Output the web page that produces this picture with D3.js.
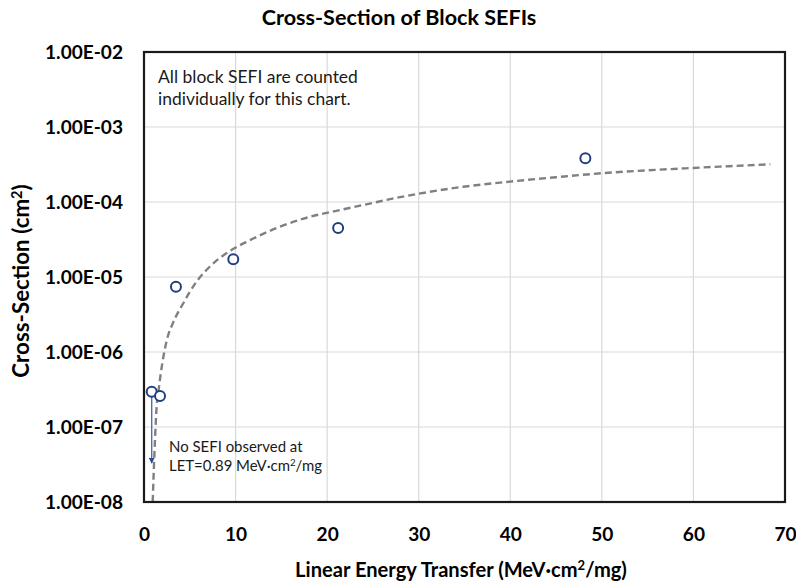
<!DOCTYPE html>
<html><head><meta charset="utf-8">
<script src="https://cdn.jsdelivr.net/npm/d3@7"></script>
<style>body{margin:0;background:#fff}svg{display:block}text{font-family:Lato,"Open Sans",sans-serif}</style>
</head><body>
<svg id="c" width="796" height="585"></svg>
<script>
// Data
const measLET = [0.84, 1.75, 3.49, 9.75, 21.2, 48.2];
const measXS  = [2.96e-7, 2.59e-7, 7.43e-6, 1.72e-5, 4.5e-5, 3.83e-4];
const fitLET = [0.95, 1.2, 1.38, 1.6, 2.0, 2.5, 3.2, 4.29, 5.75, 7.2, 9.03, 11.58, 14.85, 17.77, 21.4, 23.9, 27.6, 29.96, 34.87, 39.97, 45, 50, 59.1, 68.4];
const fitXS  = [1e-8, 6.8e-8, 1.86e-7, 3.16e-7, 7.1e-7, 1.45e-6, 2.5e-6, 4.47e-6, 8.7e-6, 1.38e-5, 2.09e-5, 3.1e-5, 4.68e-5, 6.17e-5, 7.82e-5, 9.1e-5, 1.138e-4, 1.288e-4, 1.596e-4, 1.87e-4, 2.14e-4, 2.42e-4, 2.81e-4, 3.18e-4];
const xTicks = [0, 10, 20, 30, 40, 50, 60, 70];
const yTicks = [1e-8, 1e-7, 1e-6, 1e-5, 1e-4, 1e-3, 1e-2];
const yTickLabels = ["1.00E-08","1.00E-07","1.00E-06","1.00E-05","1.00E-04","1.00E-03","1.00E-02"];
const arrowFrom = {let: 0.84, xs: 2.96e-7};
const arrowTo = {let: 0.84, xs: 3.3e-8};

const svg = d3.select("#c");
const L = 144, R = 785, T = 52, B = 502;
const x = d3.scaleLinear().domain([0, 70]).range([L, R]);
const y = d3.scaleLog().domain([1e-8, 1e-2]).range([B, T]);

// scale a text's font-size so its width matches a target
function fitSize(sel, base, target) {
  sel.attr("font-size", base);
  const w = sel.node().getBBox().width;
  const s = base * target / w;
  sel.attr("font-size", s);
  return s;
}

// grid
const g = svg.append("g");
g.selectAll(".gx").data(xTicks.slice(1, -1)).join("line")
  .attr("x1", d => x(d)).attr("x2", d => x(d)).attr("y1", T).attr("y2", B)
  .attr("stroke", "#d9d9d9").attr("stroke-width", 1.2);
g.selectAll(".gy").data(yTicks.slice(1, -1)).join("line")
  .attr("y1", d => y(d)).attr("y2", d => y(d)).attr("x1", L).attr("x2", R)
  .attr("stroke", "#d9d9d9").attr("stroke-width", 1.2);

// tick label size from a probe
const probe = svg.append("text").attr("font-weight", "bold").text(yTickLabels[6]);
const tickSize = fitSize(probe, 16, 78);
probe.remove();

const xAxis = d3.axisBottom(x).tickValues(xTicks).tickSize(0).tickPadding(0);
svg.append("g").attr("transform", `translate(0,${B})`).call(xAxis)
  .call(a => a.select(".domain").remove())
  .selectAll("text").attr("dy", null).attr("y", 39).attr("font-size", tickSize).attr("font-weight", "bold").attr("fill", "#000")
  .style("font-family", "Lato, sans-serif");
const yAxis = d3.axisLeft(y).tickValues(yTicks).tickFormat((d, i) => yTickLabels[i]).tickSize(0).tickPadding(21);
svg.append("g").attr("transform", `translate(${L},0)`).call(yAxis)
  .call(a => a.select(".domain").remove())
  .selectAll("text").attr("font-size", tickSize).attr("font-weight", "bold").attr("fill", "#000")
  .style("font-family", "Lato, sans-serif");

// fit curve
const line = d3.line().x((d, i) => x(fitLET[i])).y((d, i) => y(fitXS[i])).curve(d3.curveMonotoneX);
svg.append("path").datum(fitLET).attr("d", line).attr("fill", "none")
  .attr("stroke", "#808080").attr("stroke-width", 2.4).attr("stroke-dasharray", "7,4");

// arrow
svg.append("defs").append("marker").attr("id", "ah").attr("viewBox", "0 0 10 10")
  .attr("refX", 9).attr("refY", 5).attr("markerWidth", 6).attr("markerHeight", 6).attr("orient", "auto")
  .attr("markerUnits", "userSpaceOnUse")
  .append("path").attr("d", "M0,0L10,5L0,10z").attr("fill", "#2b4b8c");
svg.append("line").attr("x1", x(arrowFrom.let)).attr("y1", y(arrowFrom.xs))
  .attr("x2", x(arrowTo.let)).attr("y2", y(arrowTo.xs))
  .attr("stroke", "#4f6fae").attr("stroke-width", 1.4).attr("marker-end", "url(#ah)");

// points
svg.selectAll(".pt").data(measLET).join("circle")
  .attr("cx", d => x(d)).attr("cy", (d, i) => y(measXS[i])).attr("r", 5)
  .attr("fill", "#fff").attr("stroke", "#203f7f").attr("stroke-width", 2);

// plot border
svg.append("rect").attr("x", L).attr("y", T).attr("width", R - L).attr("height", B - T)
  .attr("fill", "none").attr("stroke", "#1a1a1a").attr("stroke-width", 2.2);

// annotations
const a1 = svg.append("text").attr("x", 158).attr("y", 83).attr("fill", "#1a1a1a").text("All block SEFI are counted");
const s1 = fitSize(a1, 15, 200);
svg.append("text").attr("x", 158).attr("y", 105).attr("fill", "#1a1a1a").attr("font-size", s1).text("individually for this chart.");

const a2 = svg.append("text").attr("x", 169).attr("y", 452).attr("fill", "#1a1a1a").text("No SEFI observed at");
const s2 = fitSize(a2, 13, 134);
const a3 = svg.append("text").attr("x", 169).attr("y", 471).attr("fill", "#1a1a1a").attr("font-size", s2);
a3.append("tspan").text("LET=0.89 MeV·cm");
a3.append("tspan").attr("font-size", "0.65em").attr("dy", "-0.55em").text("2");
a3.append("tspan").attr("font-size", s2).attr("dy", s2 * 0.36).text("/mg");

// titles
const tt = svg.append("text").attr("x", 399).attr("y", 25).attr("text-anchor", "middle")
  .attr("font-weight", "bold").attr("fill", "#000").text("Cross-Section of Block SEFIs");
fitSize(tt, 20, 275);

const xt = svg.append("text").attr("x", 461).attr("y", 577).attr("text-anchor", "middle")
  .attr("font-weight", "bold").attr("fill", "#000");
xt.append("tspan").text("Linear Energy Transfer (MeV·cm");
xt.append("tspan").attr("class", "sup").attr("dy", -7).text("2");
xt.append("tspan").attr("class", "base").attr("dy", 7).text("/mg)");
const xs = fitSize(xt, 19, 336);
xt.select(".sup").attr("font-size", xs * 0.65);
xt.select(".base").attr("font-size", xs);

const yt = svg.append("text").attr("transform", "translate(29,281) rotate(-90)").attr("text-anchor", "middle")
  .attr("font-weight", "bold").attr("fill", "#000");
yt.append("tspan").text("Cross-Section (cm");
yt.append("tspan").attr("class", "sup").attr("dy", -7).text("2");
yt.append("tspan").attr("class", "base").attr("dy", 7).text(")");
const ys = fitSize(yt, 19, 198);
yt.select(".sup").attr("font-size", ys * 0.65);
yt.select(".base").attr("font-size", ys);
</script>
</body></html>
